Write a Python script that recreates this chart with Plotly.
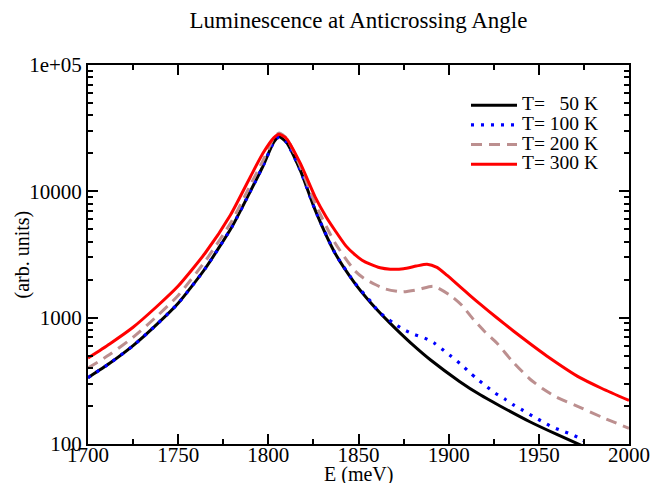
import plotly.graph_objects as go

# ---- data ----
E50 = [1700, 1712, 1725, 1738, 1750, 1765, 1780, 1790, 1797, 1803, 1806, 1810, 1817.7, 1826,
       1837, 1848, 1857, 1867.6, 1873, 1880, 1890, 1906, 1917.5, 1928.5, 1945, 1960, 1975]
I50 = [335, 435, 600, 880, 1300, 2450, 5300, 10000, 15800, 24500, 27000, 24500, 14700, 7100,
       3240, 1870, 1303, 902, 759, 612, 462, 313, 245, 200, 150, 119, 95.5]

E100 = [1700, 1712, 1725, 1738, 1750, 1765, 1780, 1790, 1797, 1803, 1806, 1810, 1817.7, 1826,
        1837, 1848, 1857, 1861, 1865.4, 1869.8, 1875, 1881, 1886.6, 1891.6, 1896, 1901.4,
        1906.8, 1911.4, 1915.6, 1920.6, 1925.8, 1931.3, 1935.9, 1941.1, 1946.6, 1952.5,
        1957.2, 1962.3, 1968.3, 1973.8, 1975]
I100 = [335, 435, 600, 880, 1300, 2450, 5300, 10000, 15800, 24500, 27000, 24500, 14700, 7100,
        3240, 1880, 1330, 1120, 1000, 898, 805, 735, 690, 635, 569, 494,
        428, 371, 329, 288, 253, 226, 204, 185, 166, 149,
        137, 128, 119, 109, 106]

E200 = [1700, 1712, 1725, 1738, 1750, 1765, 1780, 1790, 1797, 1803, 1806, 1810, 1817.7, 1826,
        1837, 1848, 1853, 1859.3, 1864.8, 1874, 1883.3, 1891.6, 1900.8, 1907.3, 1913.7, 1920.2,
        1926.7, 1935, 1945, 1952, 1960, 1972.8, 1985, 2000]
I200 = [400, 510, 700, 1020, 1500, 2800, 5900, 11200, 17500, 26500, 29000, 26500, 15800, 8000,
        3900, 2350, 2050, 1830, 1690, 1599, 1671, 1775, 1504, 1253, 970, 770,
        630, 457, 327, 275, 234, 195, 163, 133]

E300 = [1700, 1712, 1725, 1738, 1750, 1765, 1779, 1790, 1797, 1803, 1806, 1810, 1817.7, 1826,
        1832, 1837, 1843, 1848, 1852, 1856.5, 1862, 1867.6, 1875, 1882, 1888, 1893.5, 1899,
        1906.4, 1911.9, 1917.5, 1926.7, 1935.9, 1945, 1954.4, 1972.8, 1985, 2000]
I300 = [480, 620, 840, 1220, 1780, 3250, 6500, 13000, 20000, 26500, 28300, 26200, 16700, 9000,
        6300, 4900, 3700, 3150, 2850, 2650, 2480, 2420, 2440, 2560, 2650, 2500, 2168,
        1751, 1496, 1279, 998, 785, 624, 498, 335, 275, 221]

names = ["T=\u00a0\u00a0\u00a050 K", "T= 100 K", "T= 200 K", "T= 300 K"]
xticks = [1700, 1750, 1800, 1850, 1900, 1950, 2000]
yticks = [100, 1000, 10000, 100000]
yticktext = ["100", "1000", "10000", "1e+05"]

FONT = "Liberation Serif, Times New Roman, serif"

series = [
    (E50, I50, names[0], dict(color="#000000", width=3)),
    (E100, I100, names[1], dict(color="#0000ff", width=3.2, dash="3px,7px")),
    (E200, I200, names[2], dict(color="#bc8f8f", width=3, dash="11px,7px")),
    (E300, I300, names[3], dict(color="#ff0000", width=3)),
]

fig = go.Figure()
for x, y, nm, ln in series:
    ln = dict(ln, shape="spline", smoothing=0.6)
    fig.add_trace(go.Scatter(x=x, y=y, mode="lines", line=ln,
                             name='<span style="font-size:19.5px">' + nm + '</span>'))

yminor = [m * 10 ** k for k in (2, 3, 4) for m in range(2, 10)]

fig.update_layout(
    width=650, height=483, autosize=False,
    margin=dict(l=88, r=21, t=65, b=39, pad=0),
    paper_bgcolor="white", plot_bgcolor="white",
    font=dict(family=FONT, color="black", size=20),
    title=dict(text="Luminescence at Anticrossing Angle", x=0.5, xref="paper",
               y=1 - 20 / 483, yanchor="middle", yref="container",
               font=dict(family=FONT, size=23, color="black")),
    showlegend=True,
    legend=dict(x=0.6987, y=0.9327, xanchor="left", yanchor="top", bgcolor="rgba(0,0,0,0)",
                font=dict(family=FONT, size=12.8, color="black"), itemwidth=46,
                borderwidth=0, tracegroupgap=0),
    xaxis=dict(range=[1700, 2000], tickvals=xticks, ticks="inside", ticklen=10, tickwidth=1.5,
               tickcolor="black", showline=True, linewidth=2, linecolor="black", mirror="ticks",
               showgrid=False, zeroline=False, tickfont=dict(family=FONT, size=21),
               automargin=False, ticklabelstandoff=-9,
               minor=dict(ticks="inside", ticklen=5, tickwidth=1.5, dtick=25, tickcolor="black",
                          showgrid=False)),
    yaxis=dict(type="log", range=[2, 5], tickvals=yticks, ticktext=yticktext, ticks="inside",
               ticklen=10, tickwidth=1.5, tickcolor="black", showline=True, linewidth=2,
               linecolor="black", mirror="ticks", showgrid=False, zeroline=False,
               tickfont=dict(family=FONT, size=21), automargin=False,
               minor=dict(ticks="inside", ticklen=5, tickwidth=1.5, tickvals=yminor,
                          tickcolor="black", showgrid=False)),
    annotations=[
        dict(text="E (meV)", xref="paper", yref="paper", x=0.5, y=-(474 - 444) / 379,
             xanchor="center", yanchor="middle", showarrow=False,
             font=dict(family=FONT, size=20, color="black")),
        dict(text="(arb. units)", xref="paper", yref="paper", x=(22 - 88) / 541, y=0.5,
             xanchor="center", yanchor="middle", showarrow=False, textangle=-90,
             font=dict(family=FONT, size=20, color="black")),
    ],
)

fig.write_html("out.html")
